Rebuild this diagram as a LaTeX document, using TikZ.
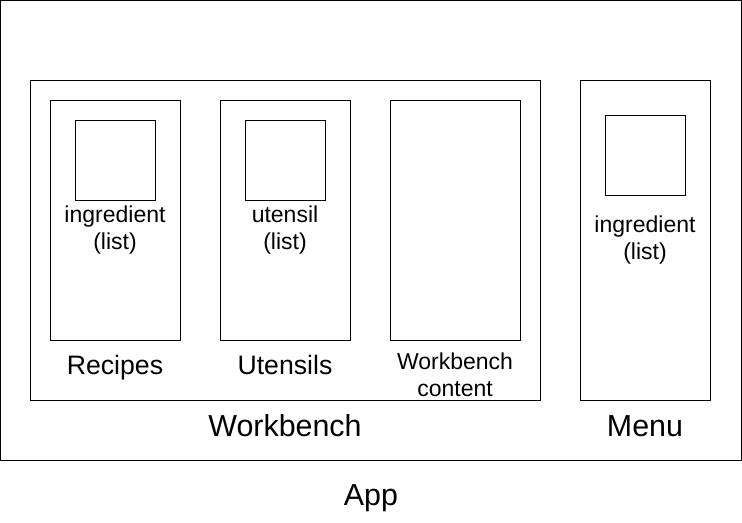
\documentclass[tikz,border=0pt]{standalone}
\usepackage{fontspec}
\setmainfont{Liberation Sans}
\usetikzlibrary{positioning}
\tikzset{
  frame/.style={draw=black,line width=0.75pt,inner sep=0pt,outer sep=0pt},
  panel/.style={frame,minimum width=97.5pt,minimum height=180pt},
  item/.style={frame,minimum width=60pt,minimum height=60pt},
  small/.style={align=center,font=\fontsize{17.25}{20.5}\selectfont},
  mid/.style={anchor=base,font=\fontsize{20}{24}\selectfont},
  big/.style={anchor=base,font=\fontsize{22.8}{27}\selectfont},
}
\begin{document}
\begin{tikzpicture}[x=0.75pt,y=-0.75pt]
\useasboundingbox (0,0) rectangle (742,522);
% outer frames
\node[frame,minimum width=555.75pt,minimum height=345pt] (app) at (370.5,230) {};
\node[frame,minimum width=382.5pt,minimum height=240pt] (bench) at (285,240) {};
\node[frame,minimum width=97.5pt,minimum height=240pt] (menu) at (645,240) {};
% panels inside the workbench
\node[panel] (recipes) at (115,220) {};
\node[panel] (utensils) at (285,220) {};
\node[panel] (content) at (455,220) {};
% list items
\node[item] (ingr) at (115,160) {};
\node[item] (uten) at (285,160) {};
\node[item] (menuingr) at (645,155) {};
% texts
\node[small] (ingrtxt) at (115,230) {ingredient\\(list)};
\node[small] (utentxt) at (285,230) {utensil\\(list)};
\node[small] (menutxt) at (645,240) {ingredient\\(list)};
\node[small] (contenttxt) at (455,375) {Workbench\\content};
\node[mid] (recipestxt) at (115,374) {Recipes};
\node[mid] (utensilstxt) at (285,374) {Utensils};
\node[big] (benchtxt) at (285,436) {Workbench};
\node[big] (menulbl) at (645,436) {Menu};
\node[big] (apptxt) at (371,505) {App};
\end{tikzpicture}
\end{document}
